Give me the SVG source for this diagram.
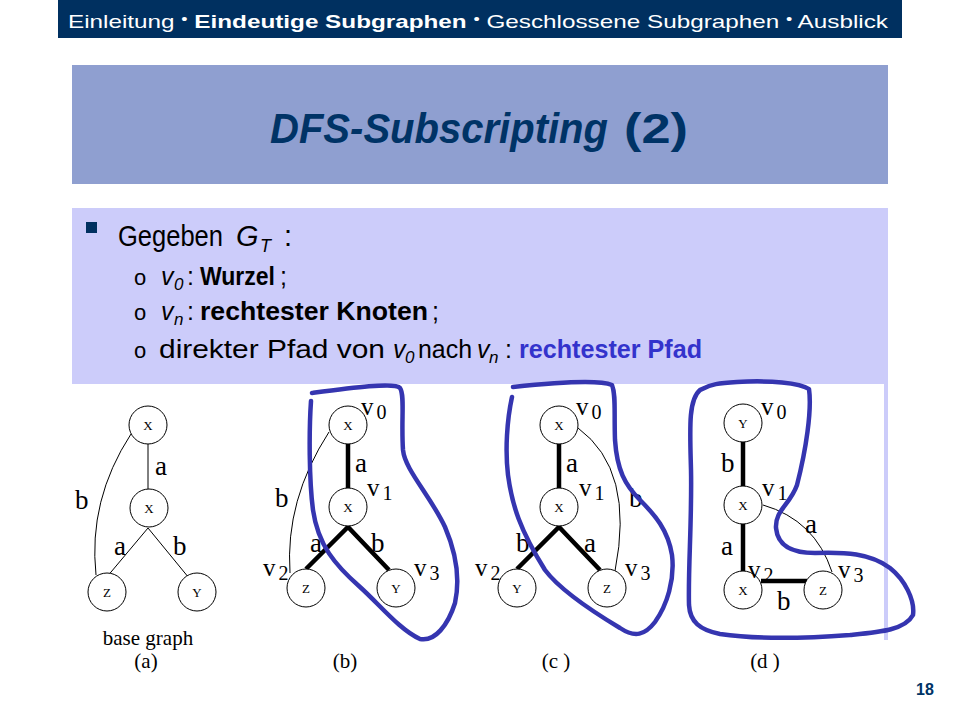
<svg xmlns="http://www.w3.org/2000/svg" width="960" height="720" viewBox="0 0 960 720">
<defs>
<style>
.hdr{font-family:"Liberation Sans",Arial,sans-serif;font-size:19px;fill:#ffffff}
.ttl{font-family:"Liberation Sans",Arial,sans-serif;font-size:43px;font-weight:bold;fill:#003366}
.body{font-family:"Liberation Sans",Arial,sans-serif;fill:#000}
.sub{font-family:"Liberation Sans",Arial,sans-serif;font-size:25px;fill:#000}
.it{font-style:italic}
.bd{font-weight:bold}
.node circle{fill:#fff;stroke:#000;stroke-width:1}
.nl{font-family:"Liberation Serif","Times New Roman",serif;font-size:13px;text-anchor:middle;fill:#000}
.el{font-family:"Liberation Serif","Times New Roman",serif;font-size:27px;fill:#000}
.vl{font-family:"Liberation Serif","Times New Roman",serif;font-size:25px;fill:#000}
.cap{font-family:"Liberation Serif","Times New Roman",serif;font-size:21px;fill:#000;text-anchor:middle}
.thin{fill:none;stroke:#000;stroke-width:1}
.thick{fill:none;stroke:#000;stroke-width:4.5}
.blue{fill:none;stroke:#3535b0;stroke-width:4.5;stroke-linecap:round;stroke-linejoin:round}
</style>
</defs>
<rect x="0" y="0" width="960" height="720" fill="#ffffff"/>
<!-- header -->
<rect x="58" y="0" width="844" height="38" fill="#003060"/>
<text class="hdr" x="68" y="28" textLength="820" lengthAdjust="spacingAndGlyphs">Einleitung <tspan font-size="14" dy="-4">•</tspan><tspan dy="4"> </tspan><tspan font-weight="bold">Eindeutige Subgraphen</tspan> <tspan font-size="14" dy="-4">•</tspan><tspan dy="4"> Geschlossene Subgraphen </tspan><tspan font-size="14" dy="-4">•</tspan><tspan dy="4"> Ausblick</tspan></text>
<!-- title -->
<rect x="72" y="65" width="816" height="119" fill="#8f9fd0"/>
<text class="ttl it" x="270" y="143" textLength="338" lengthAdjust="spacingAndGlyphs">DFS-Subscripting</text>
<text class="ttl" x="624" y="143" textLength="64" lengthAdjust="spacingAndGlyphs">(2)</text>
<!-- content box -->
<rect x="72" y="208" width="816" height="432" fill="#ccccfa"/>
<rect x="72" y="384" width="812" height="256" fill="#ffffff"/>
<rect x="86" y="222" width="11" height="11" fill="#003060"/>
<g class="body" font-size="29">
<text x="118" y="246" textLength="105" lengthAdjust="spacingAndGlyphs">Gegeben</text>
<text class="it" x="236" y="246">G</text>
<text class="it" x="260" y="252" font-size="18">T</text>
<text x="284" y="246">:</text>
</g>
<g class="sub">
<text x="134" y="285" font-size="22">o</text>
<text class="it" x="161" y="285">v</text>
<text class="it" x="174" y="290" font-size="17">0</text>
<text x="187" y="285">:</text>
<text class="bd" x="200" y="285" textLength="75" lengthAdjust="spacingAndGlyphs">Wurzel</text>
<text x="280" y="285">;</text>

<text x="134" y="320" font-size="22">o</text>
<text class="it" x="161" y="320">v</text>
<text class="it" x="174" y="325" font-size="17">n</text>
<text x="187" y="320">:</text>
<text class="bd" x="200" y="320" textLength="228" lengthAdjust="spacingAndGlyphs">rechtester Knoten</text>
<text x="432" y="320">;</text>

<text x="134" y="358" font-size="22">o</text>
<text x="159" y="358" textLength="226" lengthAdjust="spacingAndGlyphs">direkter Pfad von</text>
<text class="it" x="393" y="358">v</text>
<text class="it" x="405" y="363" font-size="17">0</text>
<text x="418" y="358" textLength="54" lengthAdjust="spacingAndGlyphs">nach</text>
<text class="it" x="477" y="358">v</text>
<text class="it" x="489" y="363" font-size="17">n</text>
<text x="505" y="358">:</text>
<text class="bd" x="519" y="358" fill="#3333cc" textLength="183" lengthAdjust="spacingAndGlyphs">rechtester Pfad</text>
</g>

<!-- connectors -->
<g id="connectors">
  <!-- (a) -->
  <line class="thin" x1="148" y1="444" x2="148" y2="489"/>
  <line class="thin" x1="148" y1="528" x2="106" y2="578"/>
  <line class="thin" x1="148" y1="528" x2="189" y2="578"/>
  <path class="thin" d="M131,434 Q88,500 96,575"/>
  <!-- (b) -->
  <line class="thick" x1="348" y1="444" x2="348" y2="488"/>
  <polyline class="thick" points="306,569 348,527 389,570"/>
  <path class="thin" d="M329,432 Q285,500 290,573"/>
  <!-- (c) -->
  <line class="thick" x1="559" y1="444" x2="559" y2="488"/>
  <polyline class="thick" points="517,569 559,527 600,570"/>
  <path class="thin" d="M578,428 Q635,470 615,571"/>
  <!-- (d) -->
  <line class="thick" x1="743" y1="442" x2="743" y2="486"/>
  <line class="thick" x1="743" y1="524" x2="743" y2="571"/>
  <line class="thick" x1="761" y1="581" x2="807" y2="581"/>
  <path class="thin" d="M763,505 Q815,520 832,572"/>
</g>

<!-- graph (a) -->
<g id="a-x0" class="node"><circle cx="148" cy="425" r="19"/><text class="nl" x="148" y="430">X</text></g>
<g id="a-x1" class="node"><circle cx="149" cy="508" r="19"/><text class="nl" x="149" y="513">X</text></g>
<g id="a-z" class="node"><circle cx="107" cy="592" r="19"/><text class="nl" x="107" y="597">Z</text></g>
<g id="a-y" class="node"><circle cx="197" cy="592" r="19"/><text class="nl" x="197" y="597">Y</text></g>
<g id="a-labels">
<text class="el" x="155" y="475">a</text>
<text class="el" x="75" y="509">b</text>
<text class="el" x="114" y="555">a</text>
<text class="el" x="173" y="555">b</text>
<text class="cap" x="148" y="645">base graph</text>
<text class="cap" x="146" y="668">(a)</text>
</g>

<!-- graph (b) -->
<g id="b-x0" class="node"><circle cx="348" cy="425" r="19"/><text class="nl" x="348" y="430">X</text></g>
<g id="b-x1" class="node"><circle cx="348" cy="507" r="19"/><text class="nl" x="348" y="512">X</text></g>
<g id="b-z" class="node"><circle cx="306" cy="588" r="19"/><text class="nl" x="306" y="593">Z</text></g>
<g id="b-y" class="node"><circle cx="396" cy="588" r="19"/><text class="nl" x="396" y="593">Y</text></g>
<g id="b-labels">
<text class="el" x="355" y="472">a</text>
<text class="el" x="275" y="507">b</text>
<text class="el" x="310" y="552">a</text>
<text class="el" x="371" y="552">b</text>
<text class="vl" x="361" y="415">v<tspan font-size="20" dx="3" dy="4">0</tspan></text>
<text class="vl" x="367" y="496">v<tspan font-size="20" dx="3" dy="4">1</tspan></text>
<text class="vl" x="263" y="576">v<tspan font-size="20" dx="3" dy="4">2</tspan></text>
<text class="vl" x="414" y="576">v<tspan font-size="20" dx="3" dy="4">3</tspan></text>
<text class="cap" x="345" y="668">(b)</text>
</g>
<path class="blue" d="M311,401 C309,430 309,480 313,510 C318,545 335,565 360,587 C380,605 400,630 420,639 C435,642 448,625 455,603 C460,580 457,555 445,527 C430,495 405,470 403,450 C401,420 405,395 400,388 C395,382 350,388 312,393"/>

<!-- graph (c) -->
<g id="c-x0" class="node"><circle cx="559" cy="425" r="19"/><text class="nl" x="559" y="430">X</text></g>
<g id="c-x1" class="node"><circle cx="559" cy="507" r="19"/><text class="nl" x="559" y="512">X</text></g>
<g id="c-y" class="node"><circle cx="517" cy="588" r="19"/><text class="nl" x="517" y="593">Y</text></g>
<g id="c-z" class="node"><circle cx="607" cy="588" r="19"/><text class="nl" x="607" y="593">Z</text></g>
<g id="c-labels">
<text class="el" x="566" y="472">a</text>
<text class="el" x="629" y="507">b</text>
<text class="el" x="516" y="552">b</text>
<text class="el" x="584" y="552">a</text>
<text class="vl" x="576" y="415">v<tspan font-size="20" dx="3" dy="4">0</tspan></text>
<text class="vl" x="579" y="496">v<tspan font-size="20" dx="3" dy="4">1</tspan></text>
<text class="vl" x="475" y="576">v<tspan font-size="20" dx="3" dy="4">2</tspan></text>
<text class="vl" x="625" y="576">v<tspan font-size="20" dx="3" dy="4">3</tspan></text>
<text class="cap" x="556" y="668">(c )</text>
</g>
<path class="blue" d="M512,397 C507,420 505,450 508,475 C512,505 520,530 545,570 C560,590 590,610 620,628 C635,638 645,635 655,622 C667,605 675,580 672,555 C668,530 655,515 640,500 C625,485 617,470 615,440 C614,410 616,395 612,385 C600,380 560,382 513,387"/>

<!-- graph (d) -->
<g id="d-y" class="node"><circle cx="743" cy="423" r="19"/><text class="nl" x="743" y="428">Y</text></g>
<g id="d-x1" class="node"><circle cx="743" cy="505" r="19"/><text class="nl" x="743" y="510">X</text></g>
<g id="d-x2" class="node"><circle cx="743" cy="590" r="19"/><text class="nl" x="743" y="595">X</text></g>
<g id="d-z" class="node"><circle cx="823" cy="590" r="19"/><text class="nl" x="823" y="595">Z</text></g>
<g id="d-labels">
<text class="el" x="721" y="472">b</text>
<text class="el" x="721" y="555">a</text>
<text class="el" x="777" y="610">b</text>
<text class="el" x="805" y="533">a</text>
<text class="vl" x="761" y="415">v<tspan font-size="20" dx="3" dy="4">0</tspan></text>
<text class="vl" x="762" y="496">v<tspan font-size="20" dx="3" dy="4">1</tspan></text>
<text class="vl" x="748" y="578">v<tspan font-size="20" dx="3" dy="4">2</tspan></text>
<text class="vl" x="838" y="578">v<tspan font-size="20" dx="3" dy="4">3</tspan></text>
<text class="cap" x="765" y="668">(d )</text>
</g>
<path class="blue" d="M737,382 C770,380 800,383 809,389 C812,410 806,450 797,485 C790,505 775,510 776,528 C778,548 795,553 815,553 C845,552 870,553 890,568 C905,580 915,600 913,615 C905,630 880,632 850,635 C810,638 760,640 720,634 C700,630 690,622 689,605 C688,570 692,520 691,470 C690,430 688,400 700,390 C710,384 720,383 737,382 Z"/>

<text x="925" y="695" text-anchor="middle" font-family="Liberation Sans, Arial, sans-serif" font-size="16" font-weight="bold" fill="#003366">18</text>
</svg>
